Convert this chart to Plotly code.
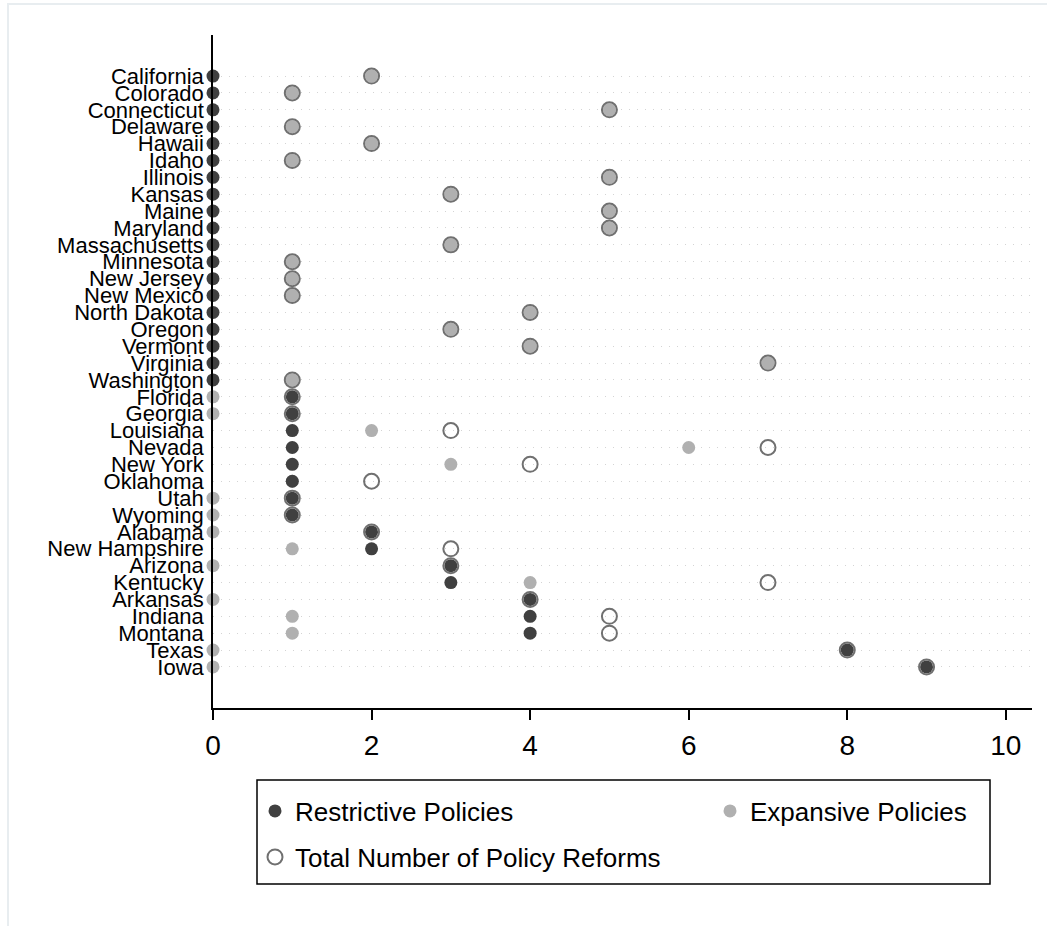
import plotly.graph_objects as go

states = ["California", "Colorado", "Connecticut", "Delaware", "Hawaii", "Idaho",
          "Illinois", "Kansas", "Maine", "Maryland", "Massachusetts", "Minnesota",
          "New Jersey", "New Mexico", "North Dakota", "Oregon", "Vermont", "Virginia",
          "Washington", "Florida", "Georgia", "Louisiana", "Nevada", "New York",
          "Oklahoma", "Utah", "Wyoming", "Alabama", "New Hampshire", "Arizona",
          "Kentucky", "Arkansas", "Indiana", "Montana", "Texas", "Iowa"]
restrictive = [0, 0, 0, 0, 0, 0, 0, 0, 0, 0, 0, 0, 0, 0, 0, 0, 0, 0, 0,
               1, 1, 1, 1, 1, 1, 1, 1, 2, 2, 3, 3, 4, 4, 4, 8, 9]
expansive = [2, 1, 5, 1, 2, 1, 5, 3, 5, 5, 3, 1, 1, 1, 4, 3, 4, 7, 1,
             0, 0, 2, 6, 3, 1, 0, 0, 0, 1, 0, 4, 0, 1, 1, 0, 0]
total = [r + e for r, e in zip(restrictive, expansive)]
xticks = [0, 2, 4, 6, 8, 10]

ypos = list(range(len(states)))
FONT = "Liberation Sans, Arial, sans-serif"

fig = go.Figure()
fig.add_trace(go.Scatter(
    x=expansive, y=ypos, mode="markers", name="Expansive Policies",
    marker=dict(color="#b0b0b0", size=13, line=dict(width=0)),
    cliponaxis=False, legend="legend2"))
fig.add_trace(go.Scatter(
    x=restrictive, y=ypos, mode="markers", name="Restrictive Policies",
    marker=dict(color="#404040", size=13, line=dict(width=0)),
    cliponaxis=False, legend="legend"))
fig.add_trace(go.Scatter(
    x=total, y=ypos, mode="markers", name="Total Number of Policy Reforms",
    marker=dict(symbol="circle-open", color="#707070", size=15, line=dict(width=2)),
    cliponaxis=False, legend="legend3"))

W, H = 1047, 926
L, R, T, B = 213, 15, 35, 218
pw, ph = W - L - R, H - T - B

def px(x):
    return (x - L) / pw

def py(y):
    return (H - B - y) / ph

def leg(xpx, ypx):
    return dict(orientation="h", x=px(xpx), y=py(ypx), xanchor="left", yanchor="middle",
                font=dict(size=26, family=FONT, color="black"),
                bgcolor="rgba(0,0,0,0)", borderwidth=0)

fig.update_layout(
    width=W, height=H,
    margin=dict(l=L, r=R, t=T, b=B),
    paper_bgcolor="white", plot_bgcolor="white",
    font=dict(family=FONT, color="black"),
    showlegend=True,
    legend=leg(255, 811),
    legend2=leg(710, 811),
    legend3=leg(255, 857),
    xaxis=dict(range=[0, 10.33], tickvals=xticks, ticks="outside", ticklen=10,
               tickwidth=1.5, tickcolor="black", showline=True, linecolor="black",
               linewidth=1.5, showgrid=False, zeroline=False, ticklabelstandoff=2,
               tickfont=dict(size=28, family=FONT, color="black")),
    yaxis=dict(range=[37.43, -2.43], tickvals=ypos, ticktext=states, ticks="",
               showline=True, linecolor="black", linewidth=1.5, zeroline=False,
               showgrid=True, gridcolor="#d4d4d4", gridwidth=1, griddash="1px,7px",
               ticklabelstandoff=3,
               tickfont=dict(size=22, family=FONT, color="black")),
    shapes=[
        dict(type="rect", xref="paper", yref="paper",
             x0=px(257), x1=px(990), y0=py(884), y1=py(780),
             line=dict(color="black", width=1.5), fillcolor="rgba(0,0,0,0)", layer="below"),
        dict(type="rect", xref="paper", yref="paper",
             x0=px(8), x1=px(1060), y0=py(940), y1=py(4),
             line=dict(color="#e8edf0", width=2), fillcolor="rgba(0,0,0,0)", layer="below"),
    ],
)

fig.write_html("out.html", config={"displayModeBar": False},
               post_script="document.body.style.margin='0';")
